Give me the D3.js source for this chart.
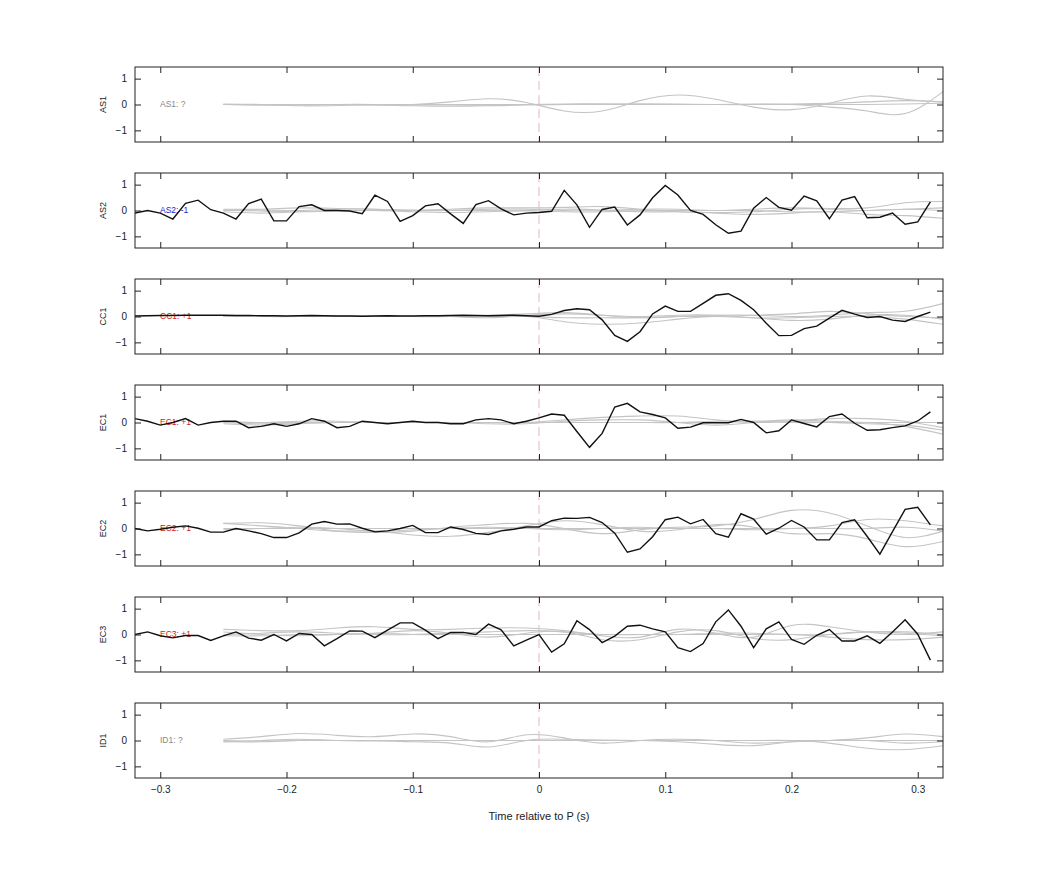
<!DOCTYPE html>
<html><head><meta charset="utf-8">
<script src="https://cdn.jsdelivr.net/npm/d3@7"></script>
<style>body{margin:0;background:#fff}svg{font-family:"Liberation Sans",Arial,sans-serif}</style>
</head><body><svg id="c" width="1042" height="875"></svg>
<script>
const channels = ["AS1","AS2","CC1","EC1","EC2","EC3","ID1"];
const labels = ["AS1: ?","AS2: -1","CC1: +1","EC1: +1","EC2: +1","EC3: +1","ID1: ?"];
const labelColors = ["#888","#1a1acc","#d42020","#d42020","#d42020","#d42020","#888"];
const xTicks = [-0.3,-0.2,-0.1,0,0.1,0.2,0.3];
const yTicks = [-1,0,1];
const tBlack = [-0.32,-0.31,-0.30,-0.29,-0.28,-0.27,-0.26,-0.25,-0.24,-0.23,-0.22,-0.21,-0.20,-0.19,-0.18,-0.17,-0.16,-0.15,-0.14,-0.13,-0.12,-0.11,-0.10,-0.09,-0.08,-0.07,-0.06,-0.05,-0.04,-0.03,-0.02,-0.01,0,0.01,0.02,0.03,0.04,0.05,0.06,0.07,0.08,0.09,0.10,0.11,0.12,0.13,0.14,0.15,0.16,0.17,0.18,0.19,0.20,0.21,0.22,0.23,0.24,0.25,0.26,0.27,0.28,0.29,0.30,0.31];
const tGray = [-0.25,-0.22,-0.19,-0.16,-0.13,-0.10,-0.07,-0.04,-0.01,0.02,0.05,0.08,0.11,0.14,0.17,0.20,0.23,0.26,0.29,0.32];

const blackAS2 = [-0.1,0,-0.1,-0.33,0.28,0.4,0.03,-0.1,-0.33,0.27,0.44,-0.4,-0.4,0.15,0.22,0,0,-0.02,-0.12,0.59,0.35,-0.42,-0.2,0.18,0.26,-0.13,-0.5,0.23,0.38,0.06,-0.17,-0.1,-0.08,-0.03,0.78,0.22,-0.65,0.04,0.13,-0.56,-0.17,0.49,0.97,0.6,0,-0.15,-0.55,-0.88,-0.8,0.09,0.5,0.12,0.01,0.56,0.37,-0.32,0.4,0.54,-0.28,-0.26,-0.1,-0.53,-0.44,0.33];
const blackCC1 = [0.02,0.03,0.04,0.04,0.05,0.05,0.05,0.05,0.04,0.04,0.03,0.03,0.02,0.03,0.04,0.03,0.02,0.02,0.01,0.02,0.03,0.02,0.02,0.03,0.03,0.04,0.05,0.04,0.03,0.04,0.05,0.03,0.01,0.08,0.23,0.3,0.26,-0.13,-0.73,-0.96,-0.59,0.1,0.4,0.2,0.2,0.51,0.82,0.88,0.62,0.26,-0.26,-0.74,-0.73,-0.47,-0.37,-0.06,0.24,0.09,-0.04,0,-0.14,-0.19,0,0.17];
const blackEC1 = [0.15,0.05,-0.1,0,0.15,-0.1,0,0.05,0.05,-0.2,-0.15,-0.05,-0.15,-0.05,0.15,0.05,-0.2,-0.15,0.05,0,-0.05,0,0.05,0,0,-0.05,-0.05,0.1,0.15,0.1,-0.05,0.05,0.18,0.33,0.28,-0.35,-0.96,-0.42,0.6,0.74,0.41,0.31,0.18,-0.22,-0.18,-0.01,-0.01,-0.01,0.12,0,-0.4,-0.32,0.1,-0.04,-0.17,0.23,0.33,-0.03,-0.3,-0.28,-0.2,-0.13,0.06,0.41];
const blackEC2 = [0,-0.09,-0.03,0.05,0.1,0.01,-0.14,-0.14,0,-0.09,-0.2,-0.35,-0.35,-0.17,0.17,0.27,0.17,0.18,0.01,-0.13,-0.09,0,0.12,-0.16,-0.16,0.06,-0.04,-0.19,-0.23,-0.09,-0.03,0.06,0.06,0.3,0.4,0.39,0.43,0.23,-0.18,-0.92,-0.79,-0.32,0.34,0.44,0.18,0.35,-0.2,-0.34,0.57,0.36,-0.22,0.01,0.31,0.06,-0.44,-0.44,0.23,0.34,-0.31,-0.99,-0.12,0.74,0.82,0.14];
const blackEC3 = [0,0.1,-0.05,-0.13,-0.04,-0.04,-0.23,-0.05,0.1,-0.14,-0.22,0,-0.25,0.04,0,-0.44,-0.16,0.14,0.13,-0.12,0.17,0.45,0.45,0.17,-0.16,0.08,0.08,0,0.4,0.18,-0.44,-0.22,0,-0.68,-0.36,0.53,0.19,-0.31,-0.06,0.32,0.36,0.22,0.1,-0.51,-0.66,-0.35,0.49,0.95,0.32,-0.51,0.22,0.49,-0.19,-0.38,-0.03,0.19,-0.25,-0.25,-0.05,-0.34,0.1,0.57,0.01,-0.99];

const grayAS1 = [
 [0,0,0,0,-0.02,0,0.1,0.22,0.08,-0.25,-0.25,0.15,0.37,0.2,-0.1,-0.2,0.05,0.33,0.2,0.1],
 [0,-0.03,-0.02,0,0,-0.02,-0.02,-0.03,0,0.02,0.02,0,0,0,0.02,0,-0.1,-0.25,-0.35,0.5],
 [0.02,0,-0.05,-0.04,-0.02,-0.05,-0.07,-0.05,-0.02,0,0.02,0.03,0.02,0,0,0.02,0.05,0.1,0.15,0.1],
 [0,0,0,0,0,0,0,0,0,0,0,0,0,0,0,0,0,0,0.02,0.05]];
const grayAS2 = [
 [0.05,0.05,0.1,0.08,0.05,0.02,0.05,0.1,0.1,0.12,0.15,0.05,-0.05,-0.08,-0.05,0.05,0.08,0.1,0.3,0.35],
 [-0.05,-0.1,-0.05,0,0,-0.05,-0.08,-0.05,0,0.05,0.02,-0.05,-0.05,-0.1,-0.15,-0.1,-0.05,-0.15,-0.2,-0.3],
 [0,0.02,0,0.05,0.05,0,0,0.05,0.05,0,0,0.05,0.05,0,0.05,0.1,0.05,0,0.05,0.1],
 [0.02,-0.02,-0.05,-0.02,0,0,0,0,-0.02,-0.05,-0.05,0,0,0,0,-0.05,-0.05,0,0.05,0]];
const grayCC1 = [
 [0.02,0,0,0.02,0.03,0,0,0.05,0.1,0.15,0.05,-0.05,0,0.05,0.05,0,0.05,0.15,0.2,0.5],
 [0,0,0,0,0,0,0,-0.05,0,-0.2,-0.3,-0.25,-0.1,0,-0.05,-0.05,0,0,-0.1,-0.3],
 [0,0,0,0,0,0,0,0,0.05,0.1,0.05,0,0.05,0.05,-0.05,-0.15,-0.1,0.05,0.05,-0.1],
 [0,0,0,0,0,0,0,0,0,-0.05,-0.05,-0.05,0,0,0.05,0.1,0.2,0.1,0,-0.05]];
const grayEC1 = [
 [0,-0.05,-0.02,0,0,0,0,0,0,0.1,0.2,0.25,0.25,0.1,0,0.05,0.15,0.15,0.05,-0.2],
 [-0.05,-0.1,-0.05,0,0,0,0,-0.05,-0.05,0.05,0.1,0.1,0,-0.1,0,0.1,0.05,0,-0.15,-0.45],
 [0.05,0,0.05,0.05,0,0,0,0,0,0,0,0,0,0,0.05,0.05,0,-0.05,-0.1,-0.3],
 [0,0,0,0,0,0,0,0,0,0,0,0,0,0.05,0.05,0,0,0,0,0]];
const grayEC2 = [
 [0.2,0.22,0.1,-0.1,-0.15,-0.1,0.05,0.15,0.2,0,-0.2,-0.05,0.05,0.1,0.35,0.7,0.6,0.1,-0.35,-0.1],
 [0.2,0.1,0,-0.1,-0.1,-0.25,-0.3,-0.15,0.1,0.3,0.15,-0.1,-0.05,0.15,0.05,-0.2,-0.2,-0.4,-0.7,-0.5],
 [0,0,0,0,0,0,0,0,0,0,0,0,0,0,0,0,0.1,0.35,0.3,0.1],
 [-0.05,0,0.05,0,-0.1,-0.05,0,0.05,0,-0.05,0,0.05,0,0,-0.05,0,0,0,0.05,-0.1]];
const grayEC3 = [
 [0.2,0.15,0.15,0.25,0.3,0.2,0.2,0.25,0.25,0.15,-0.05,-0.1,0.2,0.05,-0.1,0.35,0.3,0.1,0,0.1],
 [0.1,0,-0.05,0,0.05,0.15,0.05,-0.1,0.05,0.1,-0.2,-0.2,0.1,0.15,-0.15,-0.2,0,0.1,0.05,-0.05],
 [0,0.05,0.1,0.05,0,0,0.05,0.1,0.15,0.1,0,0,0,0,0,0,-0.1,-0.2,-0.2,-0.1],
 [-0.05,-0.05,0,0,0.05,0,0,0,0,0,0,0,0,0.05,0.05,0,0,0.1,0.1,0]];
const grayID1 = [
 [0.05,0.15,0.27,0.2,0.15,0.25,0.15,-0.05,0.22,0.1,-0.1,0,0.05,0,-0.1,-0.05,0,0.1,0.25,0.15],
 [-0.05,0,0.05,0,0,-0.05,-0.1,-0.25,0,0.05,0.02,0,0,0,0,0,-0.1,-0.3,-0.35,-0.2],
 [0,-0.02,0,0,-0.02,0,0,0,0,0,0,0,-0.05,-0.15,-0.2,-0.05,0,0,-0.1,-0.05],
 [-0.05,-0.05,0,0,0,0,0,0,0,0,0,0,0,0,0,0,0,0,0,0]];

const blackSeries = [null, blackAS2, blackCC1, blackEC1, blackEC2, blackEC3, null];
const graySeries = [grayAS1, grayAS2, grayCC1, grayEC1, grayEC2, grayEC3, grayID1];

const svg = d3.select("#c");
const L = 135, R = 943, top0 = 67, H = 75, step = 106;
const x = d3.scaleLinear().domain([-0.32, 0.32]).range([L, R]);

channels.forEach((ch, i) => {
  const y0 = top0 + i * step;
  const y = d3.scaleLinear().domain([-1.45, 1.45]).range([y0 + H, y0]);
  const g = svg.append("g");
  const clipId = "clip" + i;
  g.append("clipPath").attr("id", clipId).append("rect").attr("x", L).attr("y", y0).attr("width", R - L).attr("height", H);
  const plot = g.append("g").attr("clip-path", `url(#${clipId})`);
  plot.append("line").attr("x1", x(0)).attr("x2", x(0)).attr("y1", y0).attr("y2", y0 + H)
    .attr("stroke", "#d99").attr("stroke-dasharray", "9,5").attr("stroke-width", 0.7);
  const lineG = d3.line().x((d, k) => x(tGray[k])).y(d => y(d)).curve(d3.curveNatural);
  graySeries[i].forEach(s => plot.append("path").attr("d", lineG(s)).attr("fill", "none").attr("stroke", "#c4c4c4").attr("stroke-width", 1.1));
  plot.append("text").attr("x", 160).attr("y", y(0)).attr("dy", "0.35em").attr("font-size", 8.5).attr("fill", labelColors[i]).text(labels[i]);
  if (blackSeries[i]) {
    const lineB = d3.line().x((d, k) => x(tBlack[k])).y(d => y(d));
    plot.append("path").attr("d", lineB(blackSeries[i])).attr("fill", "none").attr("stroke", "#111").attr("stroke-width", 1.4);
  }
  const ax = g.append("g").attr("font-size", 9.5);
  ax.append("g").attr("transform", `translate(${L},0)`).call(d3.axisLeft(y).tickValues(yTicks).tickSize(-6).tickPadding(8).tickFormat(d3.format("d")))
    .call(s => s.select(".domain").remove());
  ax.append("g").attr("transform", `translate(${R},0)`).call(d3.axisRight(y).tickValues(yTicks).tickSize(-6).tickFormat(""))
    .call(s => s.select(".domain").remove());
  ax.append("g").attr("transform", `translate(0,${y0})`).call(d3.axisTop(x).tickValues(xTicks).tickSize(-6).tickFormat(""))
    .call(s => s.select(".domain").remove());
  const bx = ax.append("g").attr("transform", `translate(0,${y0 + H})`).call(d3.axisBottom(x).tickValues(xTicks).tickSize(-6).tickPadding(8)
    .tickFormat(i === channels.length - 1 ? (d => d === 0 ? "0" : d3.format(".1f")(d)) : ""));
  bx.select(".domain").remove();
  ax.selectAll("text").attr("fill", "#222");
  ax.selectAll(".tick line").attr("stroke", "#222");
  g.append("rect").attr("x", L).attr("y", y0).attr("width", R - L).attr("height", H).attr("fill", "none").attr("stroke", "#222").attr("stroke-width", 1);
  g.append("text").attr("transform", `translate(106,${y(0)}) rotate(-90)`).attr("text-anchor", "middle").attr("font-size", 9).attr("fill", "#222").text(ch);
});
svg.append("text").attr("x", x(0)).attr("y", 820).attr("text-anchor", "middle").attr("font-size", 11).attr("fill", "#222").text("Time relative to P (s)");
</script></body></html>
